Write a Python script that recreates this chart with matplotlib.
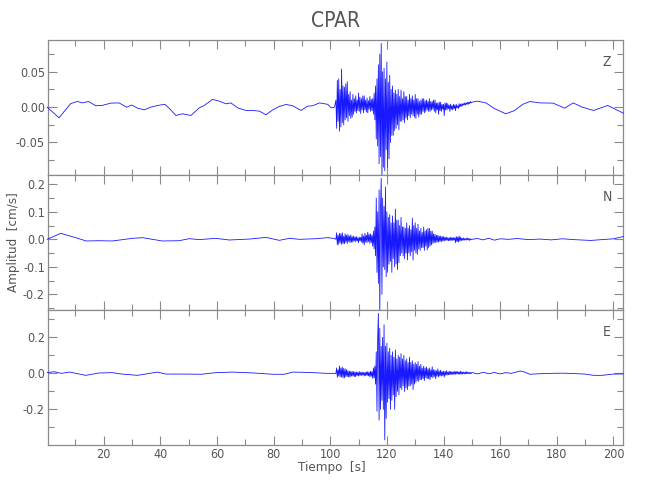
import matplotlib
matplotlib.use("Agg")
import matplotlib.pyplot as plt
from matplotlib.ticker import MultipleLocator
import numpy as np

'''
    Three component record of station CPAR.
    The quiet parts are given as (time, amplitude) samples,
    the strong motion part as amplitudes every 0.25 s from 102 s
    (one row per second).
'''

station = "CPAR"
components = ["Z", "N", "E"]

# ---- Z component ----
z_pre_t = [0.0, 4.2, 8.3, 10.7, 12.4, 14.6, 17.2, 19.5, 22.5, 25.4, 28.1, 29.9,
           31.9, 34.3, 36.6, 39.0, 41.6, 43.3, 45.5, 47.8, 50.8, 53.7, 55.5,
           58.4, 60.8, 63.2, 64.9, 67.3, 70.2, 72.6, 75.0, 77.3, 79.7, 82.0,
           84.4, 86.7, 89.7, 92.0, 93.8, 96.2, 99.1, 100.3, 101.5]
z_pre_v = [0.0, -0.0151, 0.005, 0.008, 0.006, 0.008, 0.002, 0.0025, 0.0057,
           0.006, 0.0, 0.003, -0.0014, -0.0038, 0.0, 0.0024, 0.004, -0.0024,
           -0.0118, -0.0094, -0.0118, -0.001, 0.0024, 0.011, 0.0085, 0.0047,
           0.006, -0.001, -0.0047, -0.0047, -0.0057, -0.0108, -0.0038, 0.001,
           0.0038, 0.002, -0.0047, 0.0014, 0.002, 0.006, 0.004, -0.001, 0.0]
z_burst = [0.010, -0.030, 0.038, -0.020,
           0.040, -0.034, 0.025, -0.028,
           0.054, -0.022, 0.030, -0.025,
           0.028, -0.018, 0.033, -0.015,
           0.036, -0.020, 0.018, -0.012,
           0.022, -0.016, 0.010, -0.014,
           0.018, -0.010, 0.012, -0.006,
           0.016, -0.008, 0.010, -0.005,
           0.020, -0.006, 0.014, -0.009,
           0.012, -0.004, 0.016, -0.008,
           0.016, -0.004, 0.010, -0.007,
           0.013, -0.008, 0.009, -0.003,
           0.015, -0.006, 0.011, -0.005,
           0.012, -0.010, 0.020, -0.018,
           0.030, -0.045, 0.040, -0.055,
           0.060, -0.080, 0.075, -0.070,
           0.090, -0.100, 0.050, -0.085,
           0.055, -0.090, 0.040, -0.060,
           0.064, -0.085, 0.035, -0.073,
           0.045, -0.050, 0.025, -0.040,
           0.030, -0.040, 0.020, -0.033,
           0.024, -0.030, 0.018, -0.025,
           0.025, -0.032, 0.015, -0.020,
           0.024, -0.020, 0.012, -0.018,
           0.022, -0.022, 0.015, -0.015,
           0.015, -0.018, 0.010, -0.012,
           0.018, -0.015, 0.012, -0.010,
           0.016, -0.012, 0.010, -0.014,
           0.018, -0.016, 0.012, -0.010,
           0.012, -0.014, 0.008, -0.010,
           0.010, -0.010, 0.012, -0.006,
           0.012, -0.008, 0.009, -0.006,
           0.010, -0.004, 0.008, -0.006,
           0.012, -0.006, 0.008, -0.004,
           0.008, -0.003, 0.010, -0.006,
           0.010, -0.008, 0.006, -0.004,
           0.006, -0.010, 0.007, -0.005,
           0.007, -0.006, 0.004, -0.003,
           0.004, -0.012, 0.006, -0.004,
           0.006, -0.004, 0.005, -0.002,
           0.003, -0.006, 0.004, -0.003,
           0.002, -0.004, 0.004, -0.002,
           0.003, -0.005, 0.004, -0.001,
           0.002, -0.002, 0.005, 0.000,
           0.004, 0.001, 0.005, 0.002,
           0.005, 0.003, 0.006, 0.003,
           0.006, 0.004, 0.007, 0.004,
           0.007, 0.005, 0.008, 0.006,
           0.007]
z_post_t = [152.0, 155.0, 158.0, 162.0, 165.0, 168.0, 170.5, 174.0, 178.7,
            182.8, 185.8, 189.0, 193.0, 198.0, 203.5]
z_post_v = [0.0085, 0.006, -0.002, -0.0094, -0.005, 0.004, 0.008, 0.006,
            0.0057, -0.0014, 0.006, 0.0, -0.0047, 0.0024, -0.0085]

# ---- N component ----
n_pre_t = [0.0, 4.8, 10.1, 13.8, 18.3, 23.0, 30.1, 33.7, 40.7, 46.6, 50.2,
           53.7, 59.6, 64.3, 71.4, 77.3, 82.0, 85.6, 89.1, 95.0, 99.1, 101.5]
n_pre_v = [0.0, 0.022, 0.006, -0.006, -0.005, -0.006, 0.0036, 0.006, -0.006,
           -0.005, 0.0024, -0.001, 0.0036, -0.0024, 0.001, 0.007, -0.0036,
           0.0036, 0.0, 0.0024, 0.006, 0.003]
n_burst = [0.000, 0.024, -0.020, 0.015,
           -0.018, 0.022, -0.012, 0.020,
           -0.018, 0.024, -0.016, 0.012,
           -0.016, 0.020, -0.010, 0.015,
           -0.015, 0.018, -0.008, 0.012,
           -0.012, 0.016, -0.010, 0.010,
           -0.010, 0.012, -0.006, 0.008,
           -0.008, 0.010, -0.006, 0.006,
           -0.012, 0.008, -0.005, 0.007,
           -0.010, 0.020, -0.014, 0.012,
           -0.020, 0.022, -0.010, 0.015,
           -0.012, 0.026, -0.008, 0.018,
           -0.015, 0.020, -0.012, 0.015,
           -0.025, 0.030, -0.035, 0.045,
           -0.060, 0.150, -0.120, 0.100,
           -0.160, 0.180, -0.280, 0.120,
           0.222, -0.200, 0.150, -0.100,
           0.120, -0.110, 0.190, -0.136,
           0.100, -0.120, 0.080, -0.090,
           0.090, -0.080, 0.060, -0.120,
           0.085, -0.070, 0.060, -0.100,
           0.110, -0.090, 0.070, -0.110,
           0.070, -0.085, 0.050, -0.060,
           0.080, -0.050, 0.045, -0.060,
           0.045, -0.070, 0.040, -0.050,
           0.060, -0.075, 0.040, -0.050,
           0.050, -0.060, 0.035, -0.045,
           0.077, -0.075, 0.050, -0.040,
           0.060, -0.050, 0.040, -0.055,
           0.055, -0.035, 0.030, -0.040,
           0.040, -0.030, 0.025, -0.030,
           0.045, -0.040, 0.030, -0.025,
           0.035, -0.038, 0.040, -0.030,
           0.040, -0.025, 0.030, -0.020,
           0.030, -0.015, 0.020, -0.012,
           0.018, -0.012, 0.015, -0.010,
           0.015, -0.010, 0.012, -0.008,
           0.012, -0.008, 0.010, -0.006,
           0.010, -0.006, 0.008, -0.004,
           0.008, -0.004, 0.006, -0.005,
           0.006, -0.005, 0.007, -0.004,
           0.007, -0.004, 0.006, -0.003,
           0.006, -0.012, 0.010, -0.008,
           0.008, -0.010, 0.012, -0.006,
           0.008, -0.005, 0.004, -0.003,
           0.005, -0.004, 0.003, -0.002,
           0.004, -0.003, 0.005, -0.002,
           0.003, -0.004, 0.002, -0.001,
           0.000]
n_post_t = [152.0, 154.0, 156.0, 158.0, 160.0, 163.0, 166.0, 170.0, 174.0,
            178.0, 182.0, 186.0, 190.0, 192.0, 196.0, 200.0, 203.5]
n_post_v = [0.003, -0.002, 0.004, -0.003, 0.002, 0.0, 0.003, -0.001, 0.001,
            -0.002, 0.002, -0.001, -0.003, -0.004, -0.001, 0.002, 0.01]

# ---- E component ----
e_pre_t = [0.0, 2.5, 5.0, 8.0, 13.6, 18.3, 23.0, 26.5, 31.9, 39.0, 42.0, 49.0,
           54.4, 59.6, 65.5, 73.0, 79.7, 83.8, 86.7, 92.6, 99.0, 101.5]
e_pre_v = [0.004, 0.009, 0.0, 0.007, -0.011, 0.002, 0.004, -0.004, -0.011,
           0.007, -0.004, -0.004, -0.005, 0.004, 0.007, 0.002, -0.005, -0.005,
           0.007, 0.005, 0.0, 0.0]
e_burst = [0.000, 0.030, -0.022, 0.020,
           -0.015, 0.041, -0.020, 0.030,
           -0.020, 0.035, -0.025, 0.028,
           -0.025, 0.025, -0.018, 0.020,
           -0.018, 0.015, -0.020, 0.012,
           -0.020, 0.012, -0.015, 0.010,
           -0.015, 0.010, -0.018, 0.008,
           -0.018, 0.008, -0.012, 0.006,
           -0.015, 0.010, -0.012, 0.006,
           -0.012, 0.008, -0.010, 0.005,
           -0.015, 0.006, -0.012, 0.008,
           -0.012, 0.010, -0.014, 0.006,
           -0.020, 0.012, -0.016, 0.010,
           -0.028, 0.030, -0.025, 0.040,
           -0.060, 0.120, -0.210, 0.200,
           0.333, -0.260, 0.250, -0.200,
           0.150, -0.150, 0.200, -0.200,
           0.270, -0.370, 0.150, -0.250,
           0.167, -0.160, 0.120, -0.140,
           0.140, -0.200, 0.100, -0.150,
           0.120, -0.120, 0.090, -0.200,
           0.130, -0.130, 0.080, -0.100,
           0.100, -0.120, 0.090, -0.080,
           0.110, -0.090, 0.080, -0.070,
           0.100, -0.100, 0.070, -0.080,
           0.080, -0.090, 0.060, -0.070,
           0.090, -0.070, 0.060, -0.060,
           0.070, -0.090, 0.050, -0.060,
           0.060, -0.050, 0.050, -0.040,
           0.065, -0.045, 0.040, -0.035,
           0.050, -0.035, 0.030, -0.030,
           0.040, -0.040, 0.030, -0.025,
           0.035, -0.030, 0.025, -0.030,
           0.030, -0.035, 0.020, -0.020,
           0.037, -0.025, 0.020, -0.018,
           0.020, -0.030, 0.015, -0.015,
           0.025, -0.020, 0.012, -0.015,
           0.018, -0.015, 0.010, -0.012,
           0.012, -0.020, 0.010, -0.010,
           0.015, -0.010, 0.008, -0.008,
           0.012, -0.008, 0.010, -0.006,
           0.010, -0.006, 0.008, -0.006,
           0.012, -0.005, 0.010, -0.004,
           0.010, -0.004, 0.008, -0.005,
           0.012, -0.005, 0.008, -0.003,
           0.008, -0.004, 0.006, -0.003,
           0.010, -0.003, 0.006, -0.002,
           0.006, -0.002, 0.005, -0.002,
           0.005]
e_post_t = [152.0, 154.0, 156.0, 158.0, 160.0, 162.0, 164.0, 167.0, 168.5,
            170.5, 174.0, 178.0, 182.0, 186.0, 190.0, 193.0, 196.0, 200.0, 203.5]
e_post_v = [-0.003, 0.006, -0.002, 0.005, -0.003, 0.004, 0.0, 0.013, 0.008,
            -0.005, -0.002, 0.0, 0.001, -0.001, -0.004, -0.011, -0.011, -0.004,
            -0.003]

burst_start = 102.0
burst_step = 0.25

# y limits and tick steps of each panel
ylims = [(-0.096, 0.095), (-0.257, 0.234), (-0.398, 0.352)]
ymajor = [0.05, 0.1, 0.2]
xlim = (0.2, 203.5)

text_col = "#555555"
axis_col = "#8a8a8a"
plt.rcParams['font.family'] = ["DejaVu Sans"]
plt.rcParams['font.stretch'] = "condensed"


def build_trace(pre_t, pre_v, burst, post_t, post_v):
    # join the three parts of one record
    bt = burst_start + burst_step * np.arange(len(burst))
    t = np.concatenate([pre_t, bt, post_t])
    v = np.concatenate([pre_v, burst, post_v])
    return t, v


traces = [build_trace(z_pre_t, z_pre_v, z_burst, z_post_t, z_post_v),
          build_trace(n_pre_t, n_pre_v, n_burst, n_post_t, n_post_v),
          build_trace(e_pre_t, e_pre_v, e_burst, e_post_t, e_post_v)]

fig = plt.figure(figsize=(6.5, 5), dpi=100)

left, width = 0.0734, 0.8855
bottoms = [0.65, 0.38, 0.11]
height = 0.27

for i in range(3):
    ax = fig.add_axes([left, bottoms[i], width, height])
    t, v = traces[i]
    ax.plot(t, v, color="#0000ff", lw=0.6, alpha=0.9, clip_on=False, zorder=3)
    ax.set_xlim(xlim)
    ax.set_ylim(ylims[i])

    ax.xaxis.set_major_locator(MultipleLocator(20))
    ax.xaxis.set_minor_locator(MultipleLocator(10))
    ax.yaxis.set_major_locator(MultipleLocator(ymajor[i]))
    ax.yaxis.set_minor_locator(MultipleLocator(ymajor[i] / 2))
    ax.tick_params(which="both", direction="in", top=True, right=True,
                   color=axis_col, labelcolor=text_col, labelsize=9,
                   width=0.8)
    ax.tick_params(which="major", length=6.5, pad=2)
    ax.tick_params(which="minor", length=4)
    for s in ax.spines.values():
        s.set_color(axis_col)
        s.set_linewidth(0.9)

    if i == 0:
        ax.yaxis.set_major_formatter(plt.FormatStrFormatter("%.2f"))
    else:
        ax.yaxis.set_major_formatter(plt.FormatStrFormatter("%.1f"))
    if i < 2:
        ax.tick_params(labelbottom=False)

    ax.text(0.972, 0.84, components[i], transform=ax.transAxes,
            ha="center", va="center", color=text_col, fontsize=10)

fig.text(0.516, 0.958, station, ha="center", va="center",
         color=text_col, fontsize=15)
fig.text(0.511, 0.066, "Tiempo  [s]", ha="center", va="center",
         color=text_col, fontsize=9.5)
fig.text(0.021, 0.515, "Amplitud  [cm/s]", ha="center", va="center",
         rotation=90, color=text_col, fontsize=9.5)

plt.savefig("out.png", dpi=100)
